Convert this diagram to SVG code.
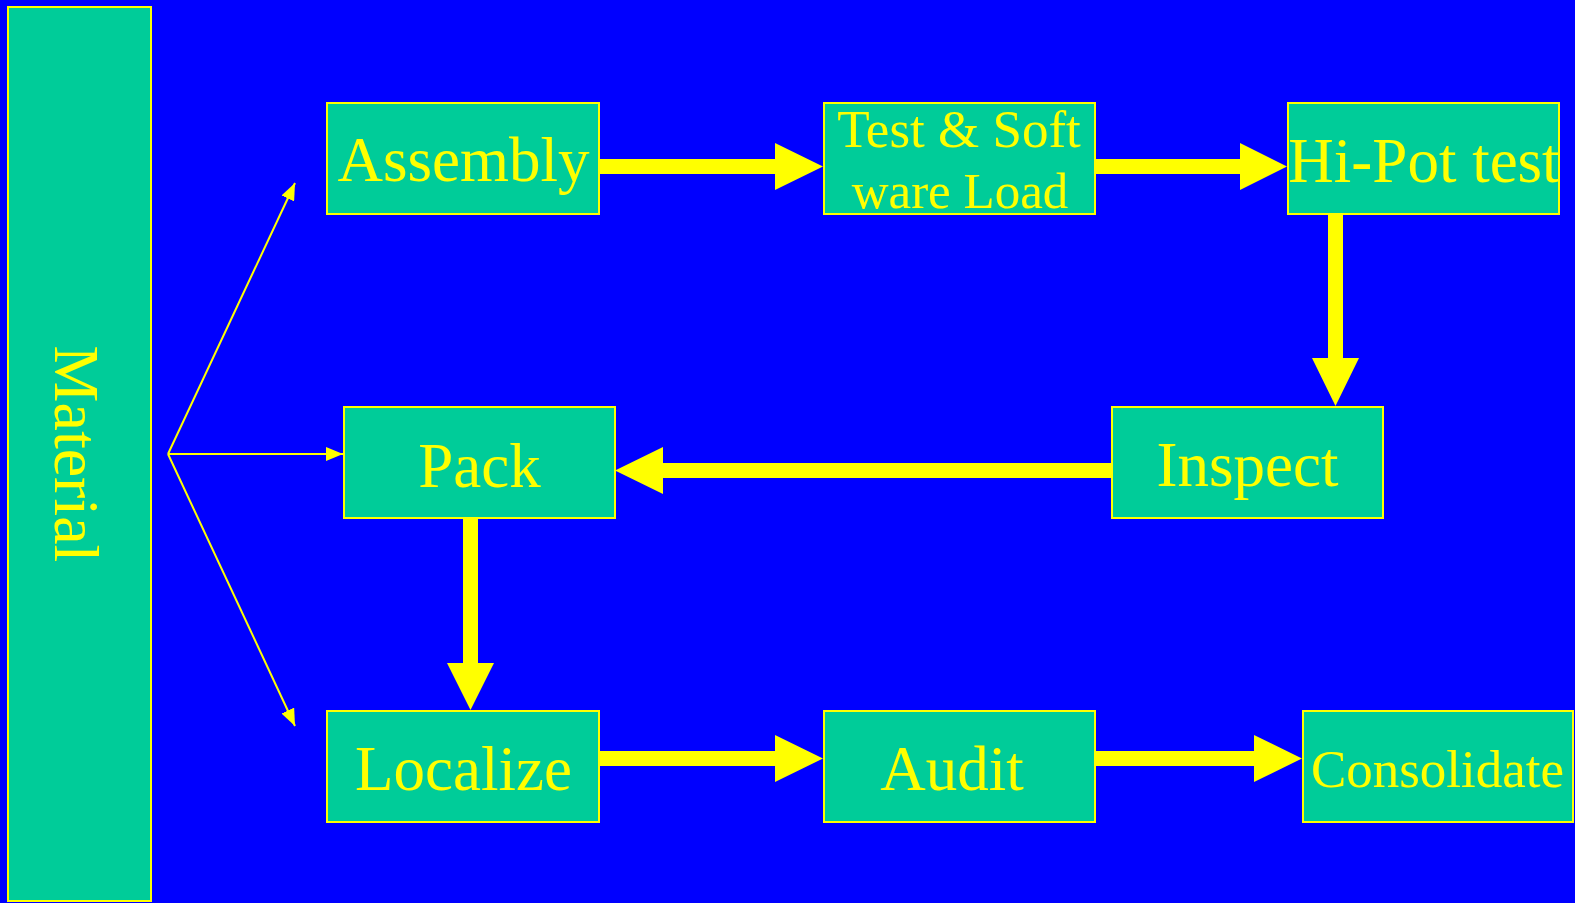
<svg xmlns="http://www.w3.org/2000/svg" width="1575" height="903" viewBox="0 0 1575 903">
  <style>
    .box { fill: #00CC99; stroke: #FFFF00; stroke-width: 2; }
    .lbl { fill: #FFFF00; font-family: "Liberation Serif", "Times New Roman", serif; text-anchor: middle; }
    .big { fill: #FFFF00; stroke: none; }
    .thin { stroke: #FFFF00; stroke-width: 2; fill: none; marker-end: url(#tip); }
  </style>
  <defs>
    <marker id="tip" markerUnits="userSpaceOnUse" markerWidth="18" markerHeight="14" refX="17" refY="7" orient="auto">
      <path d="M0,0 L17,7 L0,14 Z" fill="#FFFF00"/>
    </marker>
  </defs>

  <rect x="0" y="0" width="1575" height="903" fill="#0000FF"/>

  <!-- process steps -->
  <g id="material">
    <rect class="box" x="8" y="7" width="143" height="894"/>
    <text class="lbl" font-size="64" transform="translate(55,454) rotate(90)">Material</text>
  </g>
  <g id="assembly">
    <rect class="box" x="327" y="103" width="272" height="111"/>
    <text class="lbl" font-size="63" x="463.5" y="181">Assembly</text>
  </g>
  <g id="test-software-load">
    <rect class="box" x="824" y="103" width="271" height="111"/>
    <text class="lbl" font-size="53" x="959" y="147">Test &amp; Soft</text>
    <text class="lbl" font-size="51" x="960" y="208">ware Load</text>
  </g>
  <g id="hi-pot-test">
    <rect class="box" x="1288" y="103" width="271" height="111"/>
    <text class="lbl" font-size="63" x="1424" y="182">Hi-Pot test</text>
  </g>
  <g id="inspect">
    <rect class="box" x="1112" y="407" width="271" height="111"/>
    <text class="lbl" font-size="63" x="1247.5" y="486">Inspect</text>
  </g>
  <g id="pack">
    <rect class="box" x="344" y="407" width="271" height="111"/>
    <text class="lbl" font-size="63" x="479.5" y="487">Pack</text>
  </g>
  <g id="localize">
    <rect class="box" x="327" y="711" width="272" height="111"/>
    <text class="lbl" font-size="63" x="463.5" y="790">Localize</text>
  </g>
  <g id="audit">
    <rect class="box" x="824" y="711" width="271" height="111"/>
    <text class="lbl" font-size="63" x="952" y="790">Audit</text>
  </g>
  <g id="consolidate">
    <rect class="box" x="1303" y="711" width="270" height="111"/>
    <text class="lbl" font-size="53" x="1437.5" y="787">Consolidate</text>
  </g>

  <!-- connectors -->
  <g id="connectors">
    <!-- material feed -->
    <line class="thin" x1="168" y1="454" x2="295" y2="183"/>
    <line class="thin" x1="168" y1="454" x2="343" y2="454"/>
    <line class="thin" x1="168" y1="454" x2="295" y2="726"/>

    <!-- flow arrows -->
    <path class="big" d="M600,159 H775 V143 L823,166.5 L775,190 V174 H600 Z"/>
    <path class="big" d="M1096,159 H1240 V143 L1287,166.5 L1240,190 V174 H1096 Z"/>
    <path class="big" d="M1328,215 V358 H1312 L1335.5,406 L1359,358 H1343 V215 Z"/>
    <path class="big" d="M1111,463 H663 V447 L615,470.5 L663,494 V478 H1111 Z"/>
    <path class="big" d="M463,519 V663 H447 L470.5,710 L494,663 H478 V519 Z"/>
    <path class="big" d="M600,751 H775 V735 L823,758.5 L775,782 V766 H600 Z"/>
    <path class="big" d="M1096,751 H1254 V735 L1302,758.5 L1254,782 V766 H1096 Z"/>
  </g>
</svg>
